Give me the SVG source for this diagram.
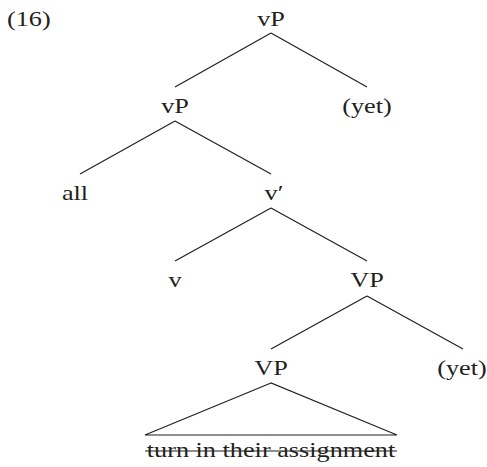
<svg xmlns="http://www.w3.org/2000/svg" width="487" height="467" viewBox="0 0 487 467">
<style>
text{font-family:"Liberation Serif","Times New Roman",serif;font-size:21px;fill:#231f20;text-anchor:middle}
.l{fill:none;stroke:#231f20;stroke-width:1.2}
</style>
<rect width="487" height="467" fill="#fff"/>
<g id="label"><text transform="translate(7,26) scale(1.25,1)" style="text-anchor:start">(16)</text></g>
<g id="connectors">
<path class="l" d="M271,33L175,87M271,33L367,87"/>
<path class="l" d="M175,121L80,174M175,121L271,174"/>
<path class="l" d="M271,208L175,261M271,208L367,261"/>
<path class="l" d="M367,296L271,349M367,296L463,349"/>
</g>
<g id="n1"><text transform="translate(271,26) scale(1.25,1)">vP</text></g>
<g id="n2"><text transform="translate(175,113) scale(1.25,1)">vP</text></g>
<g id="n3"><text transform="translate(367,113) scale(1.25,1)">(yet)</text></g>
<g id="n4"><text transform="translate(75,200) scale(1.25,1)">all</text></g>
<g id="n5"><text transform="translate(274,200) scale(1.25,1)">v′</text></g>
<g id="n6"><text transform="translate(175,287) scale(1.25,1)">v</text></g>
<g id="n7"><text transform="translate(367,287) scale(1.25,1)">VP</text></g>
<g id="n8"><text transform="translate(271,375) scale(1.25,1)">VP</text></g>
<g id="n9"><text transform="translate(462,375) scale(1.25,1)">(yet)</text></g>
<g id="n10">
<path class="l" d="M271,383L145,435L397,435Z" stroke-linejoin="miter"/>
<text transform="translate(271,457) scale(1.25,1)">turn in their assignment</text>
<path class="l" d="M145,451L397,451" stroke-width="1.4"/>
</g>
</svg>
